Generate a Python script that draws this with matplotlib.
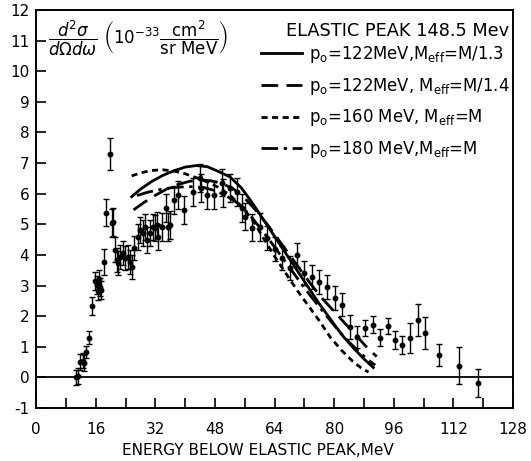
import matplotlib
matplotlib.use("Agg")
import matplotlib.pyplot as plt
from matplotlib.ticker import FixedLocator, NullFormatter

plt.rcParams['font.family'] = ['DejaVu Sans']
plt.rcParams['axes.unicode_minus'] = False
plt.rcParams['mathtext.fontset'] = 'dejavusans'

# ---- measured data (energy below elastic peak, MeV) ----
energy = [10.7, 11.2, 11.7, 12.5, 12.8, 13.4, 14.2, 15.0, 15.8, 16.3, 16.6, 16.8, 17.1, 17.4,
          18.2, 18.7, 19.8, 20.3, 20.6, 21.1, 21.7, 21.9, 22.5, 23.3, 23.8, 24.6, 25.2, 25.7,
          26.2, 27.3, 27.8, 28.7, 29.2, 29.7, 30.5, 31.3, 31.9, 32.4, 32.7, 33.8, 34.8, 35.4,
          35.9, 36.9, 38.1, 39.7, 42.1, 44.0, 44.2, 45.8, 47.7, 49.9, 50.1, 52.0, 53.9, 55.2,
          56.0, 57.9, 60.1, 61.9, 64.1, 66.0, 68.1, 70.0, 71.9, 74.0, 75.9, 78.1, 80.2, 82.1,
          84.2, 86.1, 88.3, 90.4, 92.3, 94.4, 96.3, 98.2, 100.3, 102.5, 104.4, 108.1, 113.5, 118.6]
cross_section = [0.0, 0.05, 0.5, 0.55, 0.47, 0.84, 1.3, 2.34, 3.15, 3.02, 2.83, 3.22, 2.96, 2.86,
                 3.77, 5.38, 7.3, 5.05, 5.08, 4.17, 3.84, 3.74, 3.94, 4.07, 3.9, 3.94, 3.77, 3.6,
                 4.23, 4.59, 4.82, 4.72, 4.92, 4.49, 4.72, 4.92, 4.89, 4.98, 4.59, 4.92, 5.54, 4.92,
                 4.98, 5.8, 5.96, 5.47, 6.06, 6.52, 6.19, 5.96, 5.96, 6.36, 6.03, 6.19, 6.06, 5.54,
                 5.25, 4.89, 4.92, 4.56, 4.2, 3.9, 3.58, 4.0, 3.41, 3.28, 3.12, 2.96, 2.6, 2.37,
                 1.65, 1.32, 1.62, 1.72, 1.29, 1.68, 1.23, 1.06, 1.29, 1.88, 1.45, 0.74, 0.38, -0.18]
errors = [0.25, 0.25, 0.25, 0.25, 0.25, 0.2, 0.22, 0.3, 0.3, 0.3, 0.3, 0.3, 0.3, 0.3,
          0.42, 0.44, 0.52, 0.45, 0.45, 0.4, 0.4, 0.4, 0.4, 0.4, 0.4, 0.4, 0.4, 0.4,
          0.4, 0.42, 0.42, 0.42, 0.42, 0.42, 0.42, 0.42, 0.42, 0.42, 0.42, 0.45, 0.45, 0.45,
          0.45, 0.45, 0.45, 0.45, 0.45, 0.45, 0.45, 0.45, 0.45, 0.45, 0.45, 0.45, 0.45, 0.45,
          0.45, 0.45, 0.45, 0.4, 0.4, 0.4, 0.4, 0.4, 0.4, 0.4, 0.4, 0.4, 0.4, 0.38,
          0.38, 0.35, 0.27, 0.28, 0.28, 0.27, 0.29, 0.29, 0.49, 0.52, 0.52, 0.36, 0.61, 0.45]

# ---- theory curves ----
solid_x = [25.6, 28, 31, 34, 37, 40, 43, 46, 49, 52, 55, 58, 61, 64, 67, 70, 73, 76, 79, 82, 85, 88, 90.5]
solid_y = [5.9, 6.15, 6.4, 6.6, 6.75, 6.87, 6.92, 6.88, 6.72, 6.55, 6.2, 5.7, 5.15, 4.6, 4.05, 3.5,
           2.95, 2.4, 1.9, 1.4, 0.98, 0.6, 0.32]
dashed_x = [26.1, 29, 32, 35, 38, 41, 44, 47, 50, 53, 56, 59, 62, 65, 68, 71, 74, 77, 80, 83, 86, 89, 91.4]
dashed_y = [5.47, 5.72, 5.95, 6.15, 6.3, 6.4, 6.45, 6.42, 6.33, 6.15, 5.85, 5.45, 5.0, 4.5, 4.0, 3.5,
            3.0, 2.55, 2.15, 1.75, 1.35, 0.95, 0.68]
dotted_x = [25.6, 28, 31, 34, 37, 40, 43, 46, 49, 52, 55, 58, 61, 64, 67, 70, 73, 76, 79, 82, 85, 87, 89.2]
dotted_y = [6.58, 6.68, 6.76, 6.78, 6.74, 6.65, 6.52, 6.38, 6.2, 5.95, 5.6, 5.15, 4.55, 3.95, 3.4,
            2.85, 2.35, 1.85, 1.3, 0.88, 0.52, 0.33, 0.17]
dashdot_x = [27, 30, 33, 36, 39, 42, 45, 48, 51, 54, 57, 60, 63, 66, 69, 72, 75, 78, 81, 84, 87, 89, 91]
dashdot_y = [5.94, 6.05, 6.13, 6.19, 6.22, 6.23, 6.2, 6.1, 5.93, 5.7, 5.35, 4.9, 4.42, 3.92, 3.42,
             2.92, 2.45, 2.0, 1.55, 1.15, 0.8, 0.58, 0.4]

labels = [r'p$_{\mathrm{o}}$=122MeV,M$_{\mathrm{eff}}$=M/1.3',
          r'p$_{\mathrm{o}}$=122MeV, M$_{\mathrm{eff}}$=M/1.4',
          r'p$_{\mathrm{o}}$=160 MeV, M$_{\mathrm{eff}}$=M',
          r'p$_{\mathrm{o}}$=180 MeV,M$_{\mathrm{eff}}$=M']
legend_title = 'ELASTIC PEAK 148.5 Mev'
xticks = list(range(0, 129, 16))
yticks = list(range(-1, 13))

fig = plt.figure(figsize=(5.31, 4.61), dpi=100)
ax = fig.add_axes([36.3 / 531, 53 / 461, 476.7 / 531, 398 / 461])

ax.axhline(0, color='black', lw=1.3, zorder=1)

ax.errorbar(energy, cross_section, yerr=errors, fmt='o', ms=3.2, color='black',
            ecolor='black', elinewidth=1.0, capsize=2, capthick=1.0, zorder=3)

l1, = ax.plot(solid_x, solid_y, color='black', lw=2.0, ls='-')
l2, = ax.plot(dashed_x, dashed_y, color='black', lw=2.0, ls=(0, (6, 3)))
l3, = ax.plot(dotted_x, dotted_y, color='black', lw=2.0, ls=(0, (2.2, 1.6)))
l4, = ax.plot(dashdot_x, dashdot_y, color='black', lw=2.0, ls=(0, (6, 2, 1.2, 2)))

leg = ax.legend([l1, l2, l3, l4], labels, title=legend_title, loc='upper right',
                bbox_to_anchor=(0.998, 0.975), frameon=False, fontsize=11.9,
                title_fontsize=12.8, handlelength=2.5, handletextpad=0.4,
                labelspacing=0.65, borderaxespad=0.0, borderpad=0.15)
leg._legend_box.align = 'right'
leg._legend_box.sep = 2.5

ax.text(0.024, 0.93,
        r'$\dfrac{d^2\sigma}{d\Omega d\omega}\ \left(10^{-33}\dfrac{\mathrm{cm}^2}{\mathrm{sr\ MeV}}\right)$',
        transform=ax.transAxes, fontsize=12, va='center', ha='left')

ax.set_xlim(0, 128)
ax.set_ylim(-1, 12)
ax.set_xticks(xticks)
ax.set_xticklabels([str(t) for t in xticks])
ax.xaxis.set_minor_locator(FixedLocator([t + 8 for t in xticks[:-1]]))
ax.xaxis.set_minor_formatter(NullFormatter())
ax.set_yticks(yticks)
ax.set_yticklabels([str(t) for t in yticks])
ax.tick_params(axis='both', which='both', direction='in', length=7, width=1.2,
               labelsize=11, top=False, right=False, pad=5)
ax.tick_params(axis='x', which='both', pad=10)

for sp in ax.spines.values():
    sp.set_linewidth(1.4)

ax.set_xlabel('ENERGY BELOW ELASTIC PEAK,MeV', fontsize=11, labelpad=6)
ax.xaxis.set_label_coords(0.465, -0.088)

fig.savefig('out.png', dpi=100)
